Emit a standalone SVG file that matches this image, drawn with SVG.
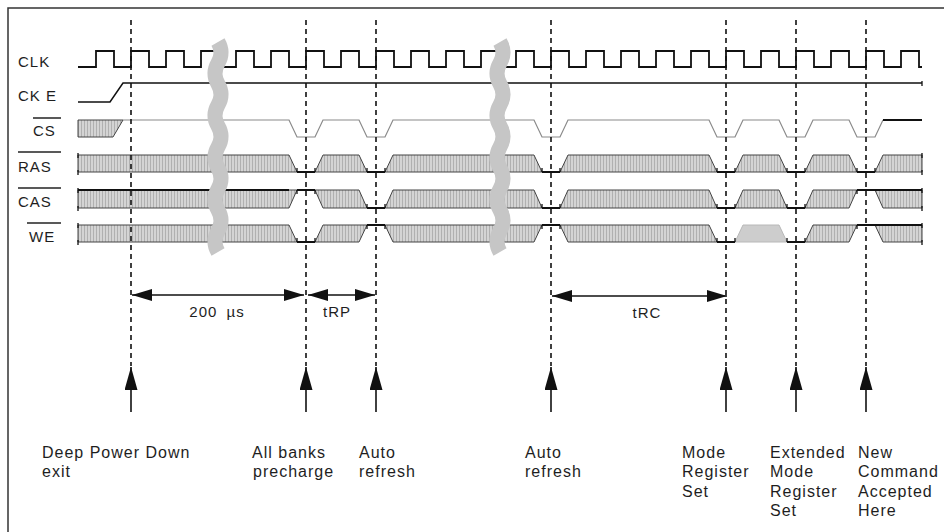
<svg xmlns="http://www.w3.org/2000/svg" width="944" height="532" viewBox="0 0 944 532">
<defs>
<pattern id="hatch" patternUnits="userSpaceOnUse" width="3" height="10">
<rect width="3" height="10" fill="#d4d4d4"/>
<rect width="1" height="10" fill="#b0b0b0"/>
</pattern>
<marker id="ah" viewBox="0 0 20 12" refX="20" refY="6" markerWidth="20" markerHeight="12" markerUnits="userSpaceOnUse" orient="auto-start-reverse">
<path d="M0,0 L20,6 L0,12 Z" fill="#111"/>
</marker>
<marker id="up" viewBox="0 0 23 13" refX="23" refY="6.5" markerWidth="23" markerHeight="13" markerUnits="userSpaceOnUse" orient="auto">
<path d="M0,0 L23,6.5 L0,13 Z" fill="#111"/>
</marker>
<style>
.clk{fill:none;stroke:#111;stroke-width:1.8}
.dc{fill:url(#hatch);stroke:#444;stroke-width:1}
.dcl{fill:#cdcdcd;stroke:#b8b8b8;stroke-width:1}
.lvl{fill:none;stroke:#111;stroke-width:2}
.cs{fill:none;stroke:#8a8a8a;stroke-width:1.2}
.tick{stroke:#111;stroke-width:1.3}
.dash{stroke:#111;stroke-width:1.6;stroke-dasharray:5 4;fill:none}
.arr{stroke:#111;stroke-width:1.6;fill:none}
.brk{fill:none;stroke:#c6c6c6;stroke-width:15}
.ovl{stroke:#222;stroke-width:1.5}
text{font-family:"Liberation Sans",Arial,sans-serif;fill:#1e1e1e}
.sig{font-size:15px;letter-spacing:1px}
.dim{font-size:15px;letter-spacing:1px;text-anchor:middle}
.lbl{font-size:16px;letter-spacing:1px}
.frame{stroke:#333;stroke-width:1.5;fill:none}
</style>
</defs>

<g id="frame">
<path class="frame" d="M8,532 V8 H944"/>
</g>

<g id="labels">
<text class="sig" x="18" y="67">CLK</text>
<text class="sig" x="18" y="101">CK E</text>
<text class="sig" x="33" y="136">CS</text>
<line class="ovl" x1="33" y1="118" x2="61" y2="118"/>
<text class="sig" x="18" y="172">RAS</text>
<line class="ovl" x1="18" y1="152" x2="61" y2="152"/>
<text class="sig" x="18" y="207">CAS</text>
<line class="ovl" x1="18" y1="188" x2="61" y2="188"/>
<text class="sig" x="29" y="242">WE</text>
<line class="ovl" x1="27" y1="223" x2="61" y2="223"/>
</g>

<g id="clk">
<path class="clk" d="M78,67 H96 V51 H114 V67 H131 V51 H149 V67 H166 V51 H184 V67 H201 V51 H219 V67 H236 V51 H254 V67 H271 V51 H289 V67 H306 V51 H324 V67 H341 V51 H359 V67 H376 V51 H394 V67 H411 V51 H429 V67 H446 V51 H464 V67 H481 V51 H499 V67 H516 V51 H534 V67 H551 V51 H569 V67 H586 V51 H604 V67 H621 V51 H639 V67 H656 V51 H674 V67 H691 V51 H709 V67 H726 V51 H744 V67 H761 V51 H779 V67 H796 V51 H814 V67 H831 V51 H849 V67 H866 V51 H884 V67 H901 V51 H919 V67 H922"/>
</g>

<g id="cke">
<path class="clk" d="M78,102 H110 L123,83 H922" style="stroke-width:1.5"/>
<line class="tick" x1="922" y1="81" x2="922" y2="86"/>
</g>

<g id="cs">
<polygon class="dc" points="78,120 123,120 113,137 78,137"/>
<path class="cs" d="M123,120 H289 L297,137 H315 L323,120 H359 L367,137 H385 L393,120 H534 L542,137 H560 L568,120 H709 L717,137 H735 L743,120 H779 L787,137 H805 L813,120 H849 L857,137 H875 L883,120"/>
<path class="lvl" d="M883,120 H922"/>
</g>

<g id="ras">
<polygon class="dc" points="78,155 289,155 297,172 78,172"/>
<polygon class="dc" points="323,155 359,155 367,172 315,172"/>
<polygon class="dc" points="393,155 534,155 542,172 385,172"/>
<polygon class="dc" points="568,155 709,155 717,172 560,172"/>
<polygon class="dc" points="743,155 779,155 787,172 735,172"/>
<polygon class="dc" points="813,155 849,155 857,172 805,172"/>
<polygon class="dc" points="883,155 922,155 922,172 875,172"/>
<path class="lvl" d="M297,172 H315 M367,172 H385 M542,172 H560 M717,172 H735 M787,172 H805 M857,172 H875"/>
<path class="tick" d="M297,172 V168 M315,172 V168 M367,172 V168 M385,172 V168 M542,172 V168 M560,172 V168 M717,172 V168 M735,172 V168 M787,172 V168 M805,172 V168 M857,172 V168 M875,172 V168 M78,153 V158 M78,170 V175 M922,153 V158 M922,170 V175"/>
</g>

<g id="cas">
<polygon class="dc" points="78,190 297,190 289,208 78,208"/>
<polygon class="dc" points="315,190 359,190 367,208 323,208"/>
<polygon class="dc" points="393,190 534,190 542,208 385,208"/>
<polygon class="dc" points="568,190 709,190 717,208 560,208"/>
<polygon class="dc" points="743,190 779,190 787,208 735,208"/>
<polygon class="dc" points="813,190 857,190 849,208 805,208"/>
<polygon class="dc" points="875,190 922,190 922,208 883,208"/>
<path class="lvl" d="M78,190 H289 M297,190 H315 M367,208 H385 M542,208 H560 M717,208 H735 M787,208 H805 M857,190 H922"/>
<path class="tick" d="M297,190 V194 M315,190 V194 M367,208 V204 M385,208 V204 M542,208 V204 M560,208 V204 M717,208 V204 M735,208 V204 M787,208 V204 M805,208 V204 M857,190 V194 M78,188 V193 M78,206 V211 M922,188 V193 M922,206 V211"/>
</g>

<g id="we">
<polygon class="dc" points="78,225 289,225 297,242 78,242"/>
<polygon class="dc" points="323,225 367,225 359,242 315,242"/>
<polygon class="dc" points="385,225 542,225 534,242 393,242"/>
<polygon class="dc" points="560,225 709,225 717,242 568,242"/>
<polygon class="dcl" points="743,225 779,225 787,242 735,242"/>
<polygon class="dc" points="813,225 857,225 849,242 805,242"/>
<polygon class="dc" points="875,225 922,225 922,242 883,242"/>
<path class="lvl" d="M297,242 H315 M367,225 H385 M542,225 H560 M717,242 H735 M787,242 H805 M857,225 H922"/>
<path class="tick" d="M297,242 V238 M315,242 V238 M367,225 V229 M385,225 V229 M542,225 V229 M560,225 V229 M717,242 V238 M735,242 V238 M787,242 V238 M805,242 V238 M857,225 V229 M78,223 V228 M78,240 V245 M922,223 V228 M922,240 V245"/>
</g>

<g id="breaks">
<path class="brk" d="M218,42 C222,49 222,56 218,63 S214,77 218,84 S222,98 218,105 S214,119 218,126 S222,140 218,147 S214,161 218,168 S222,182 218,189 S214,203 218,210 S222,224 218,231 S214,245 218,252"/>
<path class="brk" d="M500,42 C504,49 504,56 500,63 S496,77 500,84 S504,98 500,105 S496,119 500,126 S504,140 500,147 S496,161 500,168 S504,182 500,189 S496,203 500,210 S504,224 500,231 S496,245 500,252"/>
</g>

<g id="connectors">
<path class="dash" d="M131,20 V366 M306,20 V366 M376,20 V366 M551,20 V366 M726,20 V366 M796,20 V366 M866,20 V366"/>
<line class="arr" x1="132" y1="295" x2="304" y2="295" marker-start="url(#ah)" marker-end="url(#ah)"/>
<line class="arr" x1="308" y1="295" x2="375" y2="295" marker-start="url(#ah)" marker-end="url(#ah)"/>
<line class="arr" x1="552" y1="296" x2="727" y2="296" marker-start="url(#ah)" marker-end="url(#ah)"/>
<line class="arr" x1="131" y1="412" x2="131" y2="367" marker-end="url(#up)"/>
<line class="arr" x1="306" y1="412" x2="306" y2="367" marker-end="url(#up)"/>
<line class="arr" x1="376" y1="412" x2="376" y2="367" marker-end="url(#up)"/>
<line class="arr" x1="551" y1="412" x2="551" y2="367" marker-end="url(#up)"/>
<line class="arr" x1="726" y1="412" x2="726" y2="367" marker-end="url(#up)"/>
<line class="arr" x1="796" y1="412" x2="796" y2="367" marker-end="url(#up)"/>
<line class="arr" x1="866" y1="412" x2="866" y2="367" marker-end="url(#up)"/>
</g>

<g id="dim-labels">
<text class="dim" x="217" y="317" style="word-spacing:4px">200 µs</text>
<text class="dim" x="337" y="317">tRP</text>
<text class="dim" x="647" y="318">tRC</text>
</g>

<g id="ev-dpd"><text class="lbl" x="42" y="458">Deep Power Down</text><text class="lbl" x="42" y="477">exit</text></g>
<g id="ev-pre"><text class="lbl" x="252" y="458">All banks</text><text class="lbl" x="253" y="477">precharge</text></g>
<g id="ev-ar1"><text class="lbl" x="359" y="458">Auto</text><text class="lbl" x="359" y="477">refresh</text></g>
<g id="ev-ar2"><text class="lbl" x="525" y="458">Auto</text><text class="lbl" x="525" y="477">refresh</text></g>
<g id="ev-mrs"><text class="lbl" x="682" y="458">Mode</text><text class="lbl" x="682" y="477">Register</text><text class="lbl" x="682" y="496.5">Set</text></g>
<g id="ev-emrs"><text class="lbl" x="770" y="458">Extended</text><text class="lbl" x="770" y="477">Mode</text><text class="lbl" x="770" y="496.5">Register</text><text class="lbl" x="770" y="516">Set</text></g>
<g id="ev-new"><text class="lbl" x="858" y="458">New</text><text class="lbl" x="858" y="477">Command</text><text class="lbl" x="858" y="496.5">Accepted</text><text class="lbl" x="858" y="516">Here</text></g>
</svg>
